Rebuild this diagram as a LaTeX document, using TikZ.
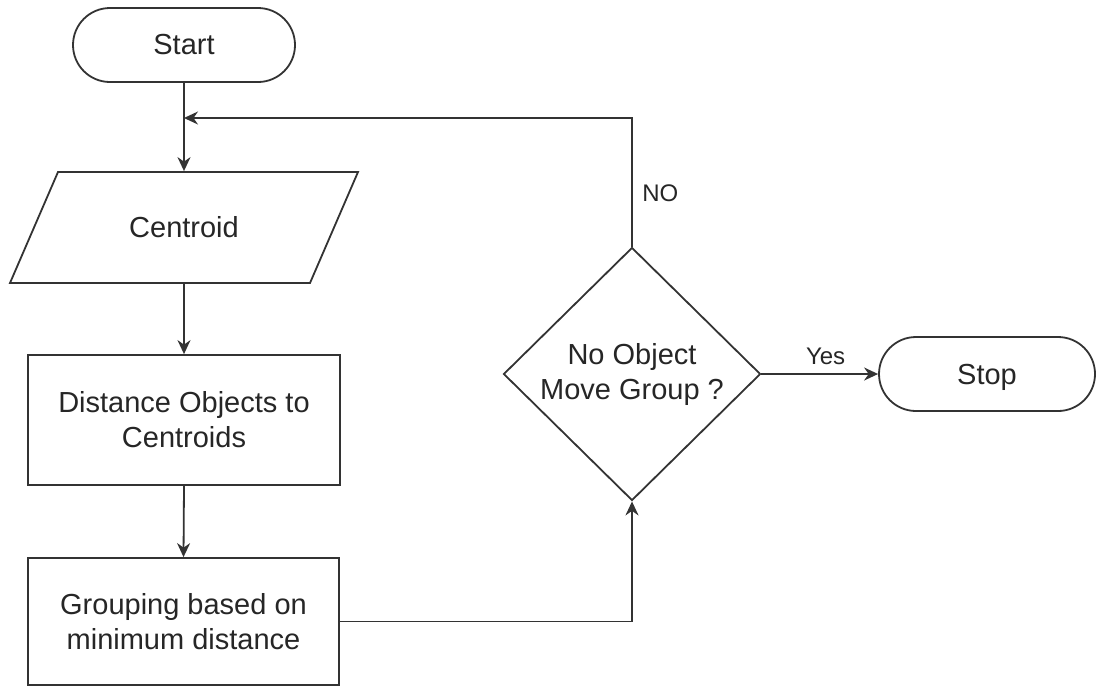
\documentclass[tikz,border=0pt]{standalone}
\usepackage{fontspec}
\setmainfont{Liberation Sans}
\usetikzlibrary{shapes.geometric,arrows.meta}
\begin{document}
\begin{tikzpicture}[x=0.5pt,y=-0.5pt,
  base/.style={draw=black!80, line width=0.9pt, text=black!85, font=\fontsize{14.5}{17.5}\selectfont, align=center, inner sep=0pt},
  term/.style={base, rectangle, rounded corners=18.5pt, minimum width=111pt, minimum height=37pt},
  proc/.style={base, rectangle, minimum width=156pt, minimum height=65pt},
  decision/.style={base, diamond, minimum width=128.5pt, minimum height=126.5pt},
  conn/.style={draw=black!80, line width=0.9pt, -{Stealth[length=7pt,width=6.5pt]}},
  lbl/.style={font=\fontsize{12}{14}\selectfont, text=black!85, inner sep=0pt}
]
\useasboundingbox (0,0) rectangle (1096,687);
\node[term] (start) at (184,45) {Start};
\node[base, draw=none, minimum width=150pt, minimum height=55.5pt] (cen) at (184,227.5) {Centroid};
\draw[draw=black!80, line width=0.9pt] ([xshift=-63pt,yshift=27.75pt]cen.center) -- ([xshift=87pt,yshift=27.75pt]cen.center) -- ([xshift=63pt,yshift=-27.75pt]cen.center) -- ([xshift=-87pt,yshift=-27.75pt]cen.center) -- cycle;
\node[proc] (dist) at (184,420) {Distance Objects to\\Centroids};
\node[proc, minimum width=155.5pt, minimum height=63.5pt] (group) at (183.5,621.5) {Grouping based on\\minimum distance};
\node[decision] (dec) at (632,374) {No Object\\Move Group ?};
\node[term, minimum width=108pt, text depth=0pt] (stop) at (987,374) {Stop};
\coordinate (join) at (184,118);
\draw[conn] (start.south) -- (cen.north);
\draw[conn] (cen.south) -- (dist.north);
\draw[conn] (dist.south) -- (group.north);
\draw[conn] (group.east) -| (dec.south);
\draw[conn] (dec.east) -- node[lbl, above=4pt, pos=0.55] (yes) {Yes} (stop.west);
\draw[conn] (dec.north) |- (join);
\node[lbl, anchor=west] (no) at (642,193) {NO};
\end{tikzpicture}
\end{document}
